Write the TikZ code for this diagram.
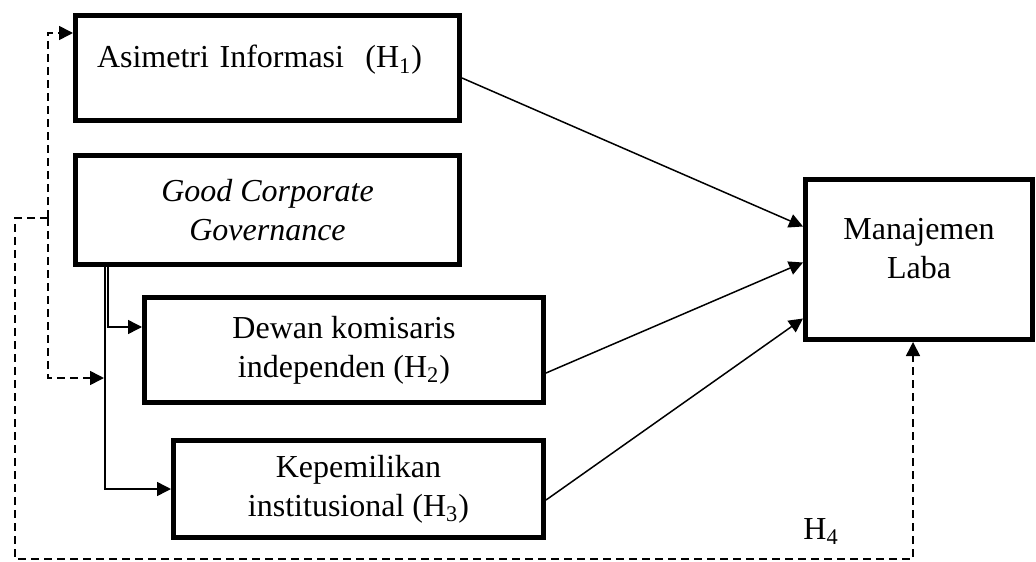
\documentclass[tikz,border=0pt]{standalone}
\usepackage{fontspec}
\setmainfont{Liberation Serif}
\usetikzlibrary{arrows.meta}

\tikzset{
  kotak/.style={draw,line width=2.5pt,align=center,font=\fontsize{16}{19.5}\selectfont},
  garis/.style={line width=0.75pt},
  putus/.style={line width=0.8pt,dash pattern=on 4pt off 2.5pt}
}

\begin{document}
\begin{tikzpicture}[x=0.5pt,y=-0.5pt,>={Triangle[length=7pt,width=7pt]}]
  \useasboundingbox (0,0) rectangle (1036,561);
  % variabel
  \node[kotak,minimum width=192pt,minimum height=52.5pt,text width=170.5pt,inner xsep=10.75pt,
        align=left,text height=11pt,text depth=11pt] (asim) at (267.5,68) {Asimetri Informasi~~(H\textsubscript{1})};
  \node[kotak,minimum width=192pt,minimum height=54.5pt] (gcg) at (267.5,210) {\textit{Good Corporate}\\\textit{Governance}};
  \node[kotak,minimum width=199.5pt,minimum height=52.5pt] (dewan) at (344,350) {Dewan komisaris\\independen (H\textsubscript{2})};
  \node[kotak,minimum width=185pt,minimum height=48.5pt] (kep) at (358.5,489) {Kepemilikan\\institusional (H\textsubscript{3})};
  \node[kotak,minimum width=113.5pt,minimum height=80pt,text depth=11pt] (mlaba) at (919,259.5) {Manajemen\\Laba};
  \node[anchor=base west,inner sep=0pt,font=\fontsize{16}{19.5}\selectfont] (hempat) at (803,539) {H\textsubscript{4}};
  % pengaruh langsung
  \draw[garis,->] ([yshift=-5pt]asim.east) -- ([yshift=16.5pt]mlaba.west);
  \draw[garis,->] ([yshift=-11.5pt]dewan.east) -- ([yshift=-1.5pt]mlaba.west);
  \draw[garis,->] ([yshift=-5.5pt]kep.east) -- ([yshift=-29.5pt]mlaba.west);
  % proksi gcg
  \draw[garis,->] ([xshift=17.5pt]gcg.south west) |- ([yshift=11.5pt]dewan.west);
  \draw[garis,->] ([xshift=16pt]gcg.south west) |- (kep.west);
  % simultan
  \coordinate (cabang) at (48,218);
  \coordinate (tuju) at (104,378);
  \coordinate (sudut) at (15,559);
  \draw[putus,->] (cabang) |- ([yshift=17.5pt]asim.west);
  \draw[putus,->] (cabang) |- (tuju);
  \draw[putus,->] (cabang) -| (sudut) -| ([xshift=-3pt]mlaba.south);
\end{tikzpicture}
\end{document}
